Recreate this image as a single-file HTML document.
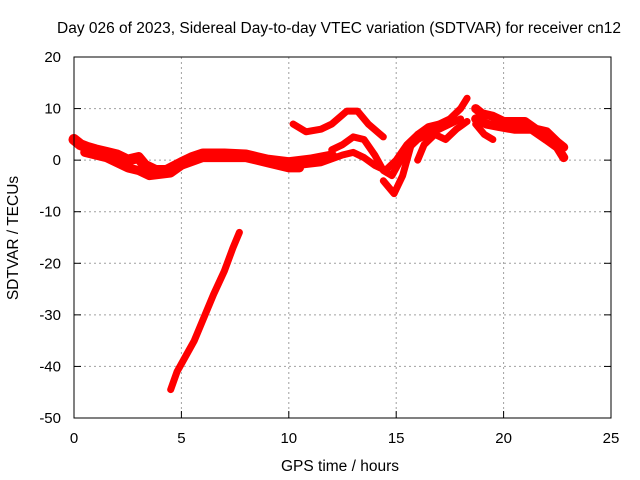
<!DOCTYPE html>
<html><head><meta charset="utf-8"><style>body{margin:0;background:#fff}svg{display:block;font-family:"Liberation Sans",sans-serif}</style></head>
<body>
<svg id="c" width="640" height="480">
<text x="339" y="33" font-size="15.5" text-anchor="middle">Day 026 of 2023, Sidereal Day-to-day VTEC variation (SDTVAR) for receiver cn12</text>
<text x="340" y="471" font-size="15.5" text-anchor="middle">GPS time / hours</text>
<text transform="translate(18,238) rotate(-90)" font-size="15.5" text-anchor="middle">SDTVAR / TECUs</text>
<g id="grid"></g><g id="marks"></g>
<rect x="74" y="57" width="537" height="361" fill="none" stroke="#000" stroke-width="1"/>
</svg>
<script>
const xTicks=[0,5,10,15,20,25];
const yTicks=[-50,-40,-30,-20,-10,0,10,20];
const bandMain=[[0,4],[0.3,3],[0.6,2.5],[1,2],[1.5,1.5],[2,1],[2.5,0],[3,0.5],[3.3,-1],[3.8,-2],[4.3,-2],[5,-0.5],[5.5,0.5],[6,1.2],[7,1.2],[8,1],[8.5,0.5],[9,0],[10,-0.5],[11,0],[12,0.8]];
const bandLow=[[0.5,1.5],[1.5,0.5],[2.5,-1.5],[3,-2],[3.5,-3],[4.5,-2.5],[5,-1],[6,0.5],[7,0.5],[8,0.5],[9,-0.5],[10,-1.5],[10.5,-1.5]];
const upper=[[10.2,7],[10.8,5.5],[11.5,6],[12,7],[12.7,9.5],[13.2,9.5],[13.7,7],[14.4,4.5]];
const mid=[[12,2],[12.5,3],[13,4.5],[13.5,4],[14,1],[14.4,-2],[14.8,-3],[15.2,0],[15.5,2],[16,4],[16.5,5],[17,6],[18,8]];
const low=[[10.5,-1],[11.5,-0.5],[12.5,1],[13,1.5],[13.5,0.5],[14,-1],[14.5,-2],[15,0],[15.5,3],[16,5],[16.5,6],[17,7]];
const dip=[[14.4,-4],[14.9,-6.5],[15.3,-3],[15.7,3],[16,5],[16.5,6.5],[17,7],[17.5,8],[18,10],[18.3,12]];
const rise=[[16,0],[16.3,3],[16.8,5],[17.3,4],[17.8,6],[18.3,7.5]];
const right1=[[18.7,10],[19,9],[19.5,8.5],[20,7.5],[21,7.5],[21.5,6],[22,5.5],[22.5,3.5],[22.8,2.5]];
const right2=[[18.7,8],[19.2,7],[19.8,6.5],[20.5,6],[21.3,6],[22,4],[22.5,2.5],[22.8,0.5]];
const right3=[[18.7,7],[19.1,5],[19.5,4]];
const steep=[[4.5,-44.5],[4.8,-41],[5.2,-38],[5.6,-35],[6,-31],[6.5,-26],[7,-21.5],[7.4,-17],[7.7,-14]];
const X=h=>74+h*537/25, Y=v=>418-(v+50)*361/70;
const NS='http://www.w3.org/2000/svg';
const g=document.getElementById('grid'), m=document.getElementById('marks');
function el(t,a,p){const e=document.createElementNS(NS,t);for(const k in a)e.setAttribute(k,a[k]);p.appendChild(e);return e;}
xTicks.forEach(t=>{
 if(t>0&&t<25){const l=el('line',{x1:X(t),x2:X(t),y1:57,y2:418,stroke:'#a0a0a0','stroke-dasharray':'2,3'},g);
 
 }
 const tk=el('line',{x1:X(t),x2:X(t),y1:418,y2:411,stroke:'#000'},g);
 
 
 const tx=el('text',{x:X(t),y:443,'font-size':15,'text-anchor':'middle'},g);tx.textContent=t;
 
 
});
yTicks.forEach(t=>{
 if(t>-50&&t<20){const l=el('line',{x1:74,x2:611,y1:Y(t),y2:Y(t),stroke:'#a0a0a0','stroke-dasharray':'2,3'},g);
 
 }
 const tk=el('line',{x1:74,x2:81,y1:Y(t),y2:Y(t),stroke:'#000'},g);
 
 
 const tk2=el('line',{x1:604,x2:611,y1:Y(t),y2:Y(t),stroke:'#000'},g);
 
 
 const tx=el('text',{x:61,y:Y(t)+5,'font-size':15,'text-anchor':'end'},g);tx.textContent=t;
 
 
});
const series=[[bandMain,11],[bandLow,9],[upper,7],[mid,7],[low,7],[dip,7],[rise,7],[right1,9],[right2,9],[right3,7],[steep,7]];
series.forEach(([d,w])=>{
 const p=el('polyline',{points:d.map(q=>X(q[0])+','+Y(q[1])).join(' '),fill:'none',stroke:'#ff0000','stroke-width':w,'stroke-linejoin':'round','stroke-linecap':'round'},m);
 
 
});
</script>
</body></html>
